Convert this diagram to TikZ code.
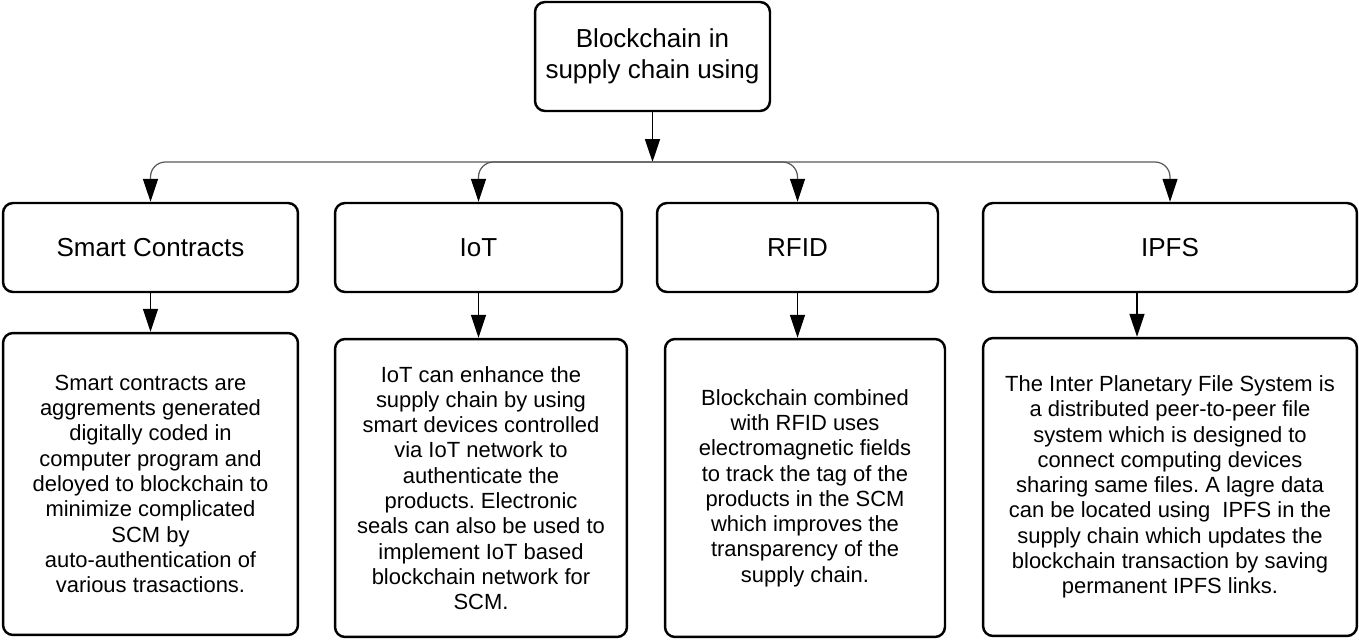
\documentclass[tikz,border=0pt]{standalone}
\usepackage{fontspec}
\setmainfont{Liberation Sans}
\usetikzlibrary{arrows.meta,positioning}
\frenchspacing

\begin{document}
\begin{tikzpicture}[x=0.02cm, y=-0.02cm,
    box/.style={draw, line width=1.4pt, rounded corners=0.2cm, inner sep=0pt, align=center},
    title/.style={box, font=\fontsize{14.8}{17.6}\selectfont},
    info/.style={box, font=\fontsize{12.5}{14.4}\selectfont},
    link/.style={line width=0.8pt, -{Triangle[length=0.46cm, width=0.3cm]}},
    bus/.style={line width=0.7pt, draw=black!65, rounded corners=0.3cm,
        -{Triangle[length=0.46cm, width=0.3cm, color=black]}}]
    \useasboundingbox (0,0) rectangle (1359,639);

    % Root
    \node[title, minimum width=4.7cm, minimum height=2.18cm] (top) at (652.5,56.5)
        {Blockchain in\\supply chain using};
    \coordinate (hub) at (652.5,162);

    % Technologies
    \node[title, minimum width=5.9cm, minimum height=1.78cm] (sc) at (150.5,247.5) {Smart Contracts};
    \node[title, minimum width=5.74cm, minimum height=1.78cm] (iot) at (478.5,247.5) {IoT};
    \node[title, minimum width=5.62cm, minimum height=1.78cm] (rfid) at (797.5,247.5) {RFID};
    \node[title, minimum width=7.48cm, minimum height=1.78cm] (ipfs) at (1170,247.5) {IPFS};

    % Descriptions
    \node[info, minimum width=5.9cm, minimum height=6.04cm] (scinfo) at (150.5,484)
        {Smart contracts are\\aggrements generated\\digitally coded in\\computer program and\\deloyed to blockchain to\\minimize complicated\\SCM by\\auto-authentication of\\various trasactions.};
    \node[info, minimum width=5.84cm, minimum height=5.96cm] (iotinfo) at (481,488)
        {IoT can enhance the\\supply chain by using\\smart devices controlled\\via IoT network to\\authenticate the\\products. Electronic\\seals can also be used to\\implement IoT based\\blockchain network for\\SCM.};
    \node[info, minimum width=5.6cm, minimum height=5.96cm] (rfidinfo) at (805,488)
        {Blockchain combined\\with RFID uses\\electromagnetic fields\\to track the tag of the\\products in the SCM\\which improves the\\transparency of the\\supply chain.};
    \node[info, minimum width=7.48cm, minimum height=5.96cm] (ipfsinfo) at (1170,487)
        {The Inter Planetary File System is\\a distributed peer-to-peer file\\system which is designed to\\connect computing devices\\sharing same files. A lagre data\\can be located using\ \ IPFS in the\\supply chain which updates the\\blockchain transaction by saving\\permanent IPFS links.};

    % Connectors
    \draw[link, line width=1pt] (top) -- (hub);
    \foreach \n in {sc,iot,rfid,ipfs}
        \draw[bus] (hub) -| (\n.north);
    \draw[link] (sc.south) -- (sc.south |- scinfo.north);
    \draw[link] (iot.south) -- (iot.south |- iotinfo.north);
    \draw[link] (rfid.south) -- (rfid.south |- rfidinfo.north);
    \draw[link] ([xshift=-0.66cm]ipfs.south) -- ([xshift=-0.66cm]ipfs.south |- ipfsinfo.north);
\end{tikzpicture}
\end{document}
